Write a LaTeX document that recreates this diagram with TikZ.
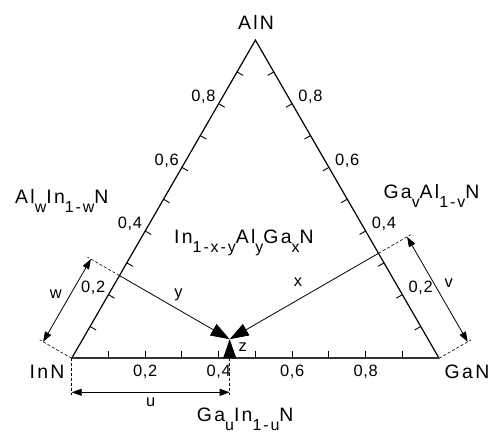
\documentclass[tikz,border=0pt]{standalone}
\usepackage{fontspec}
\setmainfont{Liberation Sans}[LetterSpace=12]
\newfontfamily\tickfont{Liberation Sans}[LetterSpace=4]
\usetikzlibrary{arrows.meta,calc}
\newcommand\lowsub[1]{\raisebox{-9bp}{\fontsize{16}{16}\selectfont #1}}

\begin{document}
\begin{tikzpicture}[x=1bp,y=1bp,
  side/.style={line width=1.2bp},
  baseline axis/.style={line width=1.7bp,black!80},
  tick/.style={line width=0.9bp},
  ticklabel/.style={font=\fontsize{16.5}{16.5}\selectfont\tickfont,inner sep=0pt},
  compound/.style={font=\fontsize{19.5}{21}\selectfont,inner sep=0pt},
  letter/.style={font=\fontsize{16.5}{16.5}\selectfont,inner sep=0pt},
  guide/.style={densely dashed,line width=0.6bp},
  comp/.style={line width=0.8bp,-{Triangle[length=19bp,width=13bp]}},
  dim/.style={line width=0.8bp,{Triangle[length=10bp,width=7bp]}-{Triangle[length=10bp,width=7bp]}},
]
  \useasboundingbox (0,0) rectangle (495,432);

  % corners of the triangle
  \coordinate (InN) at (71.7,73.7);
  \coordinate (GaN) at (439.1,73.7);
  \coordinate (AlN) at (255.4,391.9);

  % the alloy point and its feet on the sides
  \coordinate (P) at (barycentric cs:InN=0.54,GaN=0.40,AlN=0.06);
  \coordinate (fw) at ($(InN)!(P)!(AlN)$);
  \coordinate (fv) at ($(GaN)!(P)!(AlN)$);
  \coordinate (fu) at ($(InN)!(P)!(GaN)$);

  \draw[side] (InN) -- (AlN) -- (GaN);
  \draw[baseline axis] (InN) -- (GaN);

  \foreach \t in {1,...,9}{
    \draw[tick] ($(InN)!\t/10!(GaN)$) -- ++(0,7);
    \draw[tick] ($(InN)!\t/10!(AlN)$) -- ++(-30:7);
    \draw[tick] ($(GaN)!\t/10!(AlN)$) -- ++(210:7);
  }
  \foreach \t in {2,4,6,8}{
    \node[ticklabel,anchor=north] (b\t) at ($(InN)!\t/10!(GaN)+(0,-7)$) {0,\t};
    \node[ticklabel,anchor=south east] (l\t) at ($(InN)!\t/10!(AlN)+(-3,0)$) {0,\t};
    \node[ticklabel,anchor=south west] (r\t) at ($(GaN)!\t/10!(AlN)+(6,0)$) {0,\t};
  }

  \node[compound,anchor=base] (AlNl) at (256,402.7) {AlN};
  \node[compound,anchor=base] (InNl) at (47,53.7) {InN};
  \node[compound,anchor=base] (GaNl) at (467,53.7) {GaN};
  \node[compound,anchor=base west] (wside) at (15,228.7) {Al\lowsub{w}In\lowsub{1-w}N};
  \node[compound,anchor=base west] (vside) at (383.3,233.7) {Ga\lowsub{v}Al\lowsub{1-v}N};
  \node[compound,anchor=base west] (uside) at (196.7,11) {Ga\lowsub{u}In\lowsub{1-u}N};
  \node[compound,anchor=base west] (alloy) at (174,188.7) {In\lowsub{1-x-y}Al\lowsub{y}Ga\lowsub{x}N};

  % distances to the sides
  \draw[comp] (fw) -- (P) node[letter,midway,shift={(4,13)}] (ylab) {y};
  \draw[comp] (fv) -- (P) node[letter,midway,shift={(-6,14)}] (xlab) {x};
  \draw[comp] (fu) -- (P) node[letter,midway,shift={(13,2)}] (zlab) {z};

  % w
  \coordinate (w0) at ($(InN)+(150:33)$);
  \coordinate (w1) at ($(fw)+(150:33)$);
  \draw[guide] (InN) -- ++(150:37);
  \draw[guide] (fw) -- ++(150:37);
  \draw[dim] (w0) -- (w1) node[letter,midway,shift={(150:13)}] (wlab) {w};

  % v
  \coordinate (v0) at ($(GaN)+(30:33)$);
  \coordinate (v1) at ($(fv)+(30:33)$);
  \draw[guide] (GaN) -- ++(30:37);
  \draw[guide] (fv) -- ++(30:37);
  \draw[dim] (v0) -- (v1) node[letter,midway,shift={(30:13)}] (vlab) {v};

  % u
  \coordinate (u0) at ($(InN)+(0,-34)$);
  \coordinate (u1) at ($(fu)+(0,-34)$);
  \draw[guide] (InN) -- ++(0,-37);
  \draw[guide] (fu) -- ++(0,-37);
  \draw[dim] (u0) -- (u1) node[letter,midway,shift={(0,-10)}] (ulab) {u};
\end{tikzpicture}
\end{document}
